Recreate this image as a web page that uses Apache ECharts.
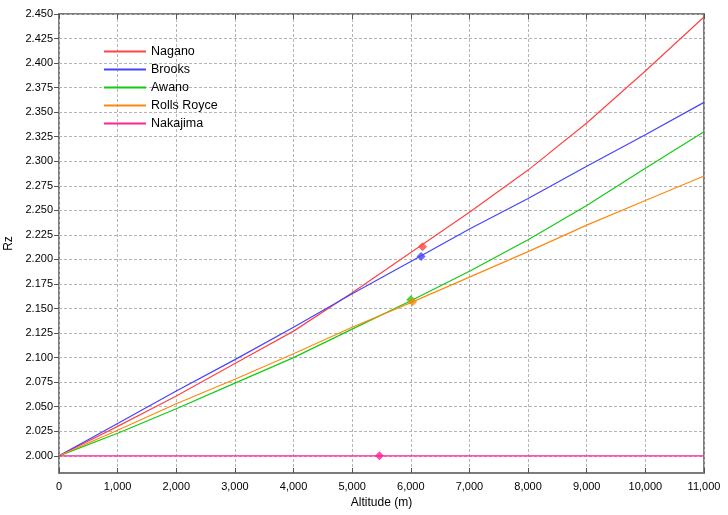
<!DOCTYPE html>
<html>
<head>
<meta charset="utf-8">
<script src="https://cdn.jsdelivr.net/npm/echarts@6/dist/echarts.min.js"></script>
<style>
  html, body { margin: 0; padding: 0; background: #fff; }
  #chart { width: 728px; height: 515px; }
</style>
</head>
<body>
<div id="chart"></div>
<script>
  // altitude (m)
  var altitudes = [0, 1000, 2000, 3000, 4000, 5000, 6000, 7000, 8000, 9000, 10000, 11000];
  var nagano = [2.000, 2.030, 2.061, 2.094, 2.127, 2.166, 2.207, 2.248, 2.291, 2.339, 2.392, 2.447];
  var brooks = [2.000, 2.033, 2.066, 2.098, 2.131, 2.165, 2.198, 2.231, 2.262, 2.295, 2.327, 2.360];
  var awano = [2.000, 2.023, 2.048, 2.074, 2.100, 2.129, 2.158, 2.188, 2.220, 2.255, 2.293, 2.330];
  var rollsRoyce = [2.000, 2.026, 2.053, 2.078, 2.104, 2.131, 2.156, 2.182, 2.208, 2.235, 2.260, 2.285];
  var nakajima = [2.000, 2.000, 2.000, 2.000, 2.000, 2.000, 2.000, 2.000, 2.000, 2.000, 2.000, 2.000];

  // marked points [altitude, Rz]
  var naganoMark = [6200, 2.213];
  var brooksMark = [6175, 2.203];
  var awanoMark = [6000, 2.159];
  var rollsRoyceMark = [6030, 2.157];
  var nakajimaMark = [5465, 2.000];

  var yTicks = [2.000, 2.025, 2.050, 2.075, 2.100, 2.125, 2.150, 2.175, 2.200, 2.225,
    2.250, 2.275, 2.300, 2.325, 2.350, 2.375, 2.400, 2.425, 2.450];

  var names = ['Nagano', 'Brooks', 'Awano', 'Rolls Royce', 'Nakajima'];
  var colors = ['#ff4444', '#4444ff', '#11cc11', '#ff8811', '#ff2299'];
  var curves = [nagano, brooks, awano, rollsRoyce, nakajima];
  var marks = [naganoMark, brooksMark, awanoMark, rollsRoyceMark, nakajimaMark];

  var font = '"Liberation Sans", Arial, sans-serif';

  var series = [];
  // diamonds first so the lines sit over them like the original
  names.forEach(function (name, i) {
    series.push({
      name: name + ' mark',
      type: 'scatter',
      symbol: 'diamond',
      symbolSize: 9,
      itemStyle: { color: colors[i] },
      data: [marks[i]],
      z: 3
    });
  });
  names.forEach(function (name, i) {
    series.push({
      name: name,
      type: 'line',
      symbol: 'none',
      lineStyle: { color: colors[i], width: 1.2 },
      itemStyle: { color: colors[i] },
      data: altitudes.map(function (a, k) { return [a, curves[i][k]]; }),
      z: 2
    });
  });

  var gridLine = { show: true, lineStyle: { color: '#b4b4b4', type: [3, 2], width: 1 } };

  var chart = echarts.init(document.getElementById('chart'));
  var option = {
    animation: false,
    backgroundColor: '#fff',
    color: colors,
    grid: {
      left: 59, right: 24, top: 14, bottom: 42,
      outerBoundsMode: 'none',
      containLabel: false,
      show: true, borderColor: '#7c7c7c', borderWidth: 2, backgroundColor: 'transparent'
    },
    legend: {
      data: names.map(function (n, i) {
        return { name: n, itemStyle: { color: colors[i] } };
      }),
      orient: 'vertical',
      left: 99,
      top: 40,
      icon: 'path://M0,0H42V2H0Z',
      itemWidth: 42,
      itemHeight: 2,
      itemGap: 5,
      textStyle: { fontFamily: font, fontSize: 12.5, lineHeight: 13, color: '#000' }
    },
    xAxis: [{
      type: 'value',
      min: 0, max: 11000, interval: 1000,
      name: 'Altitude (m)',
      nameLocation: 'middle',
      nameGap: 23,
      nameTextStyle: { fontFamily: font, fontSize: 12, color: '#000' },
      axisLine: { show: false },
      axisTick: { inside: true, length: 5, lineStyle: { color: '#555' } },
      axisLabel: {
        fontFamily: font, fontSize: 11, color: '#000', margin: 8,
        formatter: function (v) { return v.toLocaleString('en-US'); }
      },
      splitLine: gridLine
    }, {
      type: 'value',
      position: 'top',
      min: 0, max: 11000, interval: 1000,
      axisLine: { show: false },
      axisTick: { inside: true, length: 5, lineStyle: { color: '#555' } },
      axisLabel: { show: false },
      splitLine: { show: false }
    }],
    yAxis: [{
      type: 'value',
      min: 1.9825, max: 2.45,
      name: 'Rz',
      nameLocation: 'middle',
      nameGap: 38,
      nameTextStyle: { fontFamily: font, fontSize: 12, color: '#000' },
      axisLine: { show: false },
      axisTick: { show: false, customValues: yTicks },
      axisLabel: {
        customValues: yTicks,
        fontFamily: font, fontSize: 11, color: '#000', margin: 6,
        formatter: function (v) { return v.toFixed(3); }
      },
      splitLine: gridLine
    }, {
      type: 'value',
      position: 'right',
      min: 1.9825, max: 2.45,
      axisLine: { show: false },
      axisTick: { inside: true, length: 5, lineStyle: { color: '#555' }, customValues: yTicks },
      axisLabel: { show: false, customValues: yTicks },
      splitLine: { show: false }
    }],
    series: series
  };
  chart.setOption(option);
</script>
</body>
</html>
